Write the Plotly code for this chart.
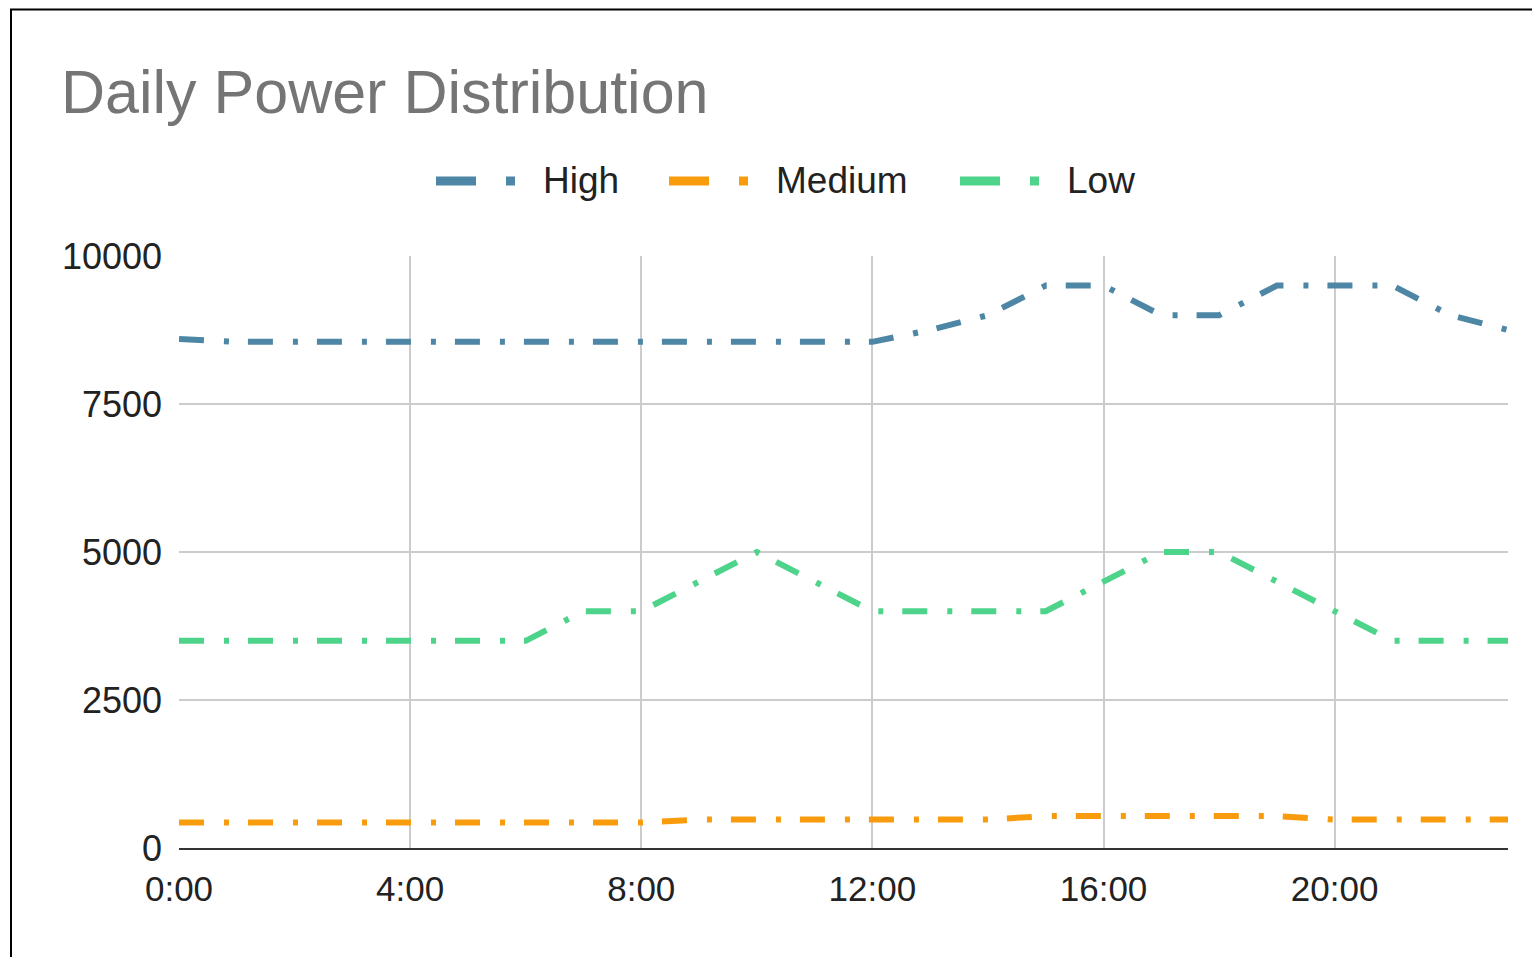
import plotly.graph_objects as go

# ---- data ----
times = ["0:00", "1:00", "2:00", "3:00", "4:00", "5:00", "6:00", "7:00",
         "8:00", "9:00", "10:00", "11:00", "12:00", "13:00", "14:00", "15:00",
         "16:00", "17:00", "18:00", "19:00", "20:00", "21:00", "22:00", "23:00"]
high = [8600, 8550, 8550, 8550, 8550, 8550, 8550, 8550, 8550, 8550, 8550, 8550,
        8550, 8750, 9000, 9500, 9500, 9000, 9000, 9500, 9500, 9500, 9000, 8750]
medium = [430, 430, 430, 430, 430, 430, 430, 430, 430, 480, 480, 480,
          480, 480, 480, 540, 540, 540, 540, 540, 480, 480, 480, 480]
low = [3500, 3500, 3500, 3500, 3500, 3500, 3500, 4000, 4000, 4500, 5000, 4500,
       4000, 4000, 4000, 4000, 4500, 5000, 5000, 4500, 4000, 3500, 3500, 3500]
series_names = ["High", "Medium", "Low"]
x_ticks = ["0:00", "4:00", "8:00", "12:00", "16:00", "20:00"]
y_ticks = [0, 2500, 5000, 7500, 10000]
y_tick_labels = ["0", "2500", "5000", "7500", "10000"]

colors = {"High": "#4e87a6", "Medium": "#f89c0e", "Low": "#4dd38a"}
FONT = "Liberation Sans, Arial, sans-serif"
DASH = "25px,20px,5px,19px"

OFF = 8  # page body margin
W, H = 1540, 957
L, R, T, B = 179 - OFF, 40, 256 - OFF, 117
PW, PH = W - L - R, H - T - B


def px(x):
    # page pixel -> paper x
    return (x - OFF - L) / PW


def py(y):
    # page pixel -> paper y
    return (H - B - (y - OFF)) / PH


fig = go.Figure()
for name, vals in zip(series_names, [high, medium, low]):
    fig.add_trace(go.Scatter(
        x=times, y=vals, name=name, mode="lines",
        line=dict(color=colors[name], width=6, dash=DASH),
        showlegend=False,
    ))

shapes = []
annotations = []

# outer frame
shapes.append(dict(type="rect", xref="paper", yref="paper",
                   x0=px(11), x1=px(1560), y0=py(990), y1=py(9.5),
                   line=dict(color="#000", width=2), fillcolor="rgba(0,0,0,0)",
                   layer="below"))

# title
annotations.append(dict(text="Daily Power Distribution", xref="paper", yref="paper",
                        x=px(59), y=py(92), xanchor="left", yanchor="middle",
                        showarrow=False,
                        font=dict(family=FONT, size=61, color="#757575")))

# custom legend
legend_pos = {"High": 436, "Medium": 669, "Low": 960}
for name in series_names:
    x0 = legend_pos[name]
    shapes.append(dict(type="rect", xref="paper", yref="paper",
                       x0=px(x0), x1=px(x0 + 40), y0=py(185.5), y1=py(176.5),
                       line=dict(width=0), fillcolor=colors[name]))
    shapes.append(dict(type="rect", xref="paper", yref="paper",
                       x0=px(x0 + 70), x1=px(x0 + 79), y0=py(185.5), y1=py(176.5),
                       line=dict(width=0), fillcolor=colors[name]))
    annotations.append(dict(text=name, xref="paper", yref="paper",
                            x=px(x0 + 105), y=py(181), xanchor="left", yanchor="middle",
                            showarrow=False,
                            font=dict(family=FONT, size=37, color="#222")))

fig.update_layout(
    width=W, height=H,
    margin=dict(l=L, r=R, t=T, b=B, autoexpand=False),
    paper_bgcolor="white", plot_bgcolor="white",
    shapes=shapes, annotations=annotations,
    font=dict(family=FONT, size=35, color="#222"),
    xaxis=dict(type="category", categoryorder="array", categoryarray=times,
               range=[0, len(times) - 1], tickmode="array", tickvals=x_ticks,
               ticktext=x_ticks, showgrid=True, gridcolor="#cccccc", gridwidth=2,
               showline=True, linecolor="#333333", linewidth=2,
               ticks="", ticklabelstandoff=9,
               tickfont=dict(family=FONT, size=35, color="#222")),
    yaxis=dict(range=[0, 10000], tickmode="array", tickvals=y_ticks,
               ticktext=y_tick_labels,
               showgrid=True, gridcolor="#cccccc", gridwidth=2, zeroline=False,
               ticks="", ticklabelstandoff=16,
               tickfont=dict(family=FONT, size=36, color="#222")),
)

fig.write_html("out.html")
